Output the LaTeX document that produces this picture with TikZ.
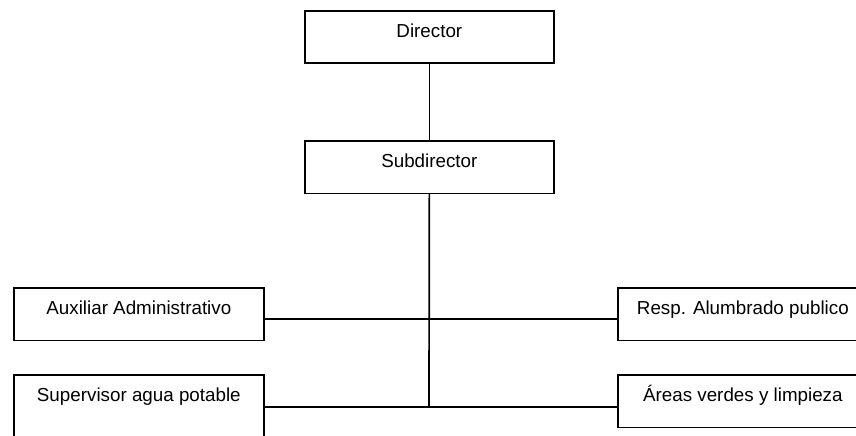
\documentclass[tikz,border=0pt]{standalone}
\usepackage{fontspec}
\setmainfont{Liberation Sans}
\begin{document}
\begin{tikzpicture}[x=1pt,y=-1pt,
  orgbox/.style={draw=black, line width=1.7pt, rectangle, inner sep=0pt,
    minimum width=249pt, text height=27pt, text depth=25.5pt,
    font=\fontsize{18.8}{22}\selectfont, anchor=north west},
  link/.style={draw=black, line width=1.7pt}]
\useasboundingbox (0,0) rectangle (856,436);
\clip (0,0) rectangle (856,436);
\fill[white] (0,0) rectangle (856,436);
\node[orgbox] (dir) at (304,10) {Director};
\node[orgbox] (sub) at (304,140) {Subdirector};
\node[orgbox, minimum width=250pt] (aux) at (13,287) {Auxiliar Administrativo};
\node[orgbox, minimum width=250pt, text depth=45pt] (sup) at (13,374) {Supervisor agua potable};
\node[orgbox, minimum width=250pt] (resp) at (617,287) {Resp. Alumbrado publico};
\node[orgbox, minimum width=250pt] (areas) at (617,374) {Áreas verdes y limpieza};
\coordinate (j1) at (429,318.7);
\coordinate (j2) at (429,407);
\draw[link] (dir.south) -- (sub.north);
\draw[link] (sub.south) -- (j2);
\draw[link] (aux.east |- j1) -- (resp.west |- j1);
\draw[link] (sup.east |- j2) -- (areas.west |- j2);
\end{tikzpicture}
\end{document}
